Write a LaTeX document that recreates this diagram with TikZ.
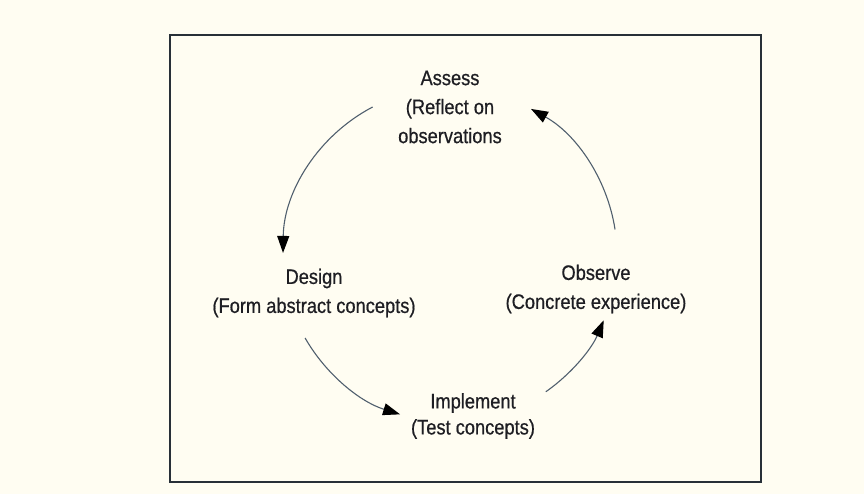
\documentclass[tikz,border=0pt]{standalone}
\usepackage{fontspec}
\setmainfont[FakeStretch=0.87,FakeBold=0.6]{Liberation Sans}
\usetikzlibrary{arrows.meta,calc}
\definecolor{bgcream}{RGB}{255,253,242}
\definecolor{framec}{RGB}{40,48,56}
\definecolor{linec}{RGB}{80,95,110}
\definecolor{textc}{RGB}{30,30,35}
\begin{document}
\begin{tikzpicture}[x=1pt,y=1pt,
  txt/.style={align=center,text=textc,font=\fontsize{21}{29}\selectfont,inner sep=0pt},
  cyc/.style={draw=linec,line width=1.1pt,-{Triangle[length=17pt,width=12pt,color=black]}}]
\fill[bgcream] (0,0) rectangle (864,494);
\useasboundingbox (0,0) rectangle (864,494);
\draw[framec,line width=2.2pt] (170,12) rectangle (761,459);
% labels
\node[txt] (assess) at (450,387) {Assess\\(Reflect on\\observations};
\node[txt] (design) at (314,201) {Design\\(Form abstract concepts)};
\node[txt] (observe) at (596,205) {Observe\\(Concrete experience)};
\node[txt] (implement) at (473,78) {Implement\\[-3pt](Test concepts)};
% cycle
\coordinate (c) at (450,239);
\coordinate (s1) at ($(c)+(117.6:167pt)$);
\coordinate (s2) at ($(c)+(209.8:167pt)$);
\coordinate (s3) at ($(c)+(305:167pt)$);
\coordinate (s4) at ($(c)+(8.8:167pt)$);
\draw[cyc] (s1) arc[start angle=117.6,end angle=179.3,radius=167pt];
\draw[cyc] (s2) arc[start angle=209.8,end angle=252.6,radius=167pt];
\draw[cyc] (s3) arc[start angle=305,end angle=337,radius=167pt];
\draw[cyc] (s4) arc[start angle=8.8,end angle=61,radius=167pt];
\end{tikzpicture}
\end{document}
